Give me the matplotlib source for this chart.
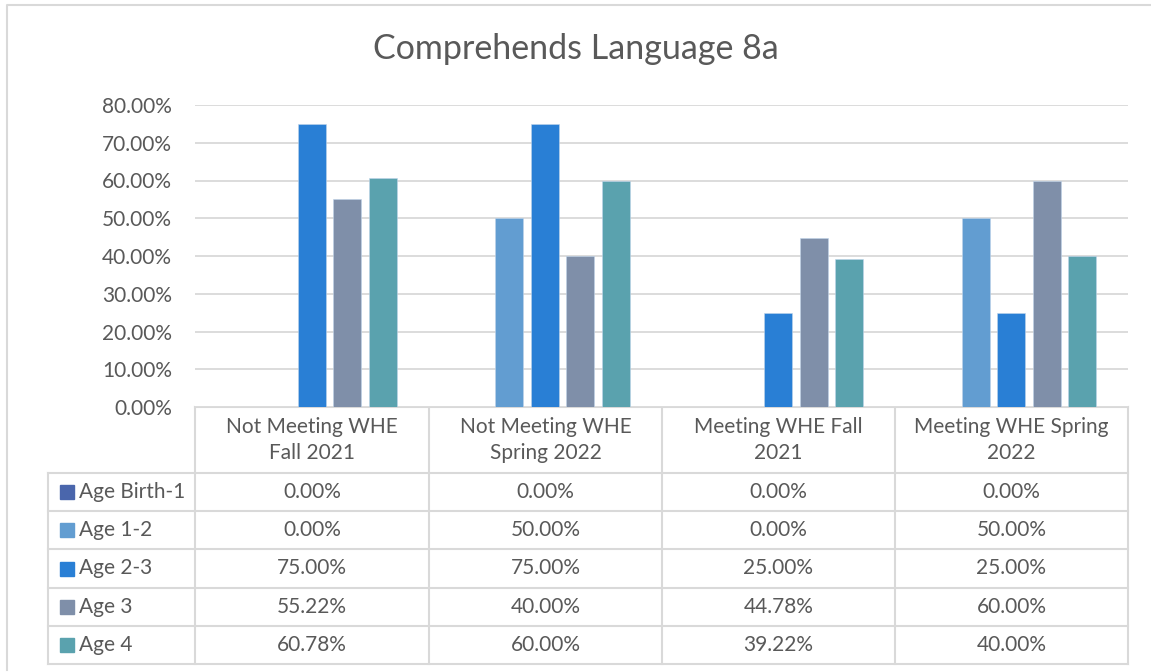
import matplotlib
matplotlib.use("Agg")
import matplotlib.pyplot as plt
import numpy as np

categories = ["Not Meeting WHE\nFall 2021", "Not Meeting WHE\nSpring 2022",
              "Meeting WHE Fall\n2021", "Meeting WHE Spring\n2022"]
series_names = ["Age Birth-1", "Age 1-2", "Age 2-3", "Age 3", "Age 4"]
age_birth_1 = [0.0, 0.0, 0.0, 0.0]
age_1_2 = [0.0, 0.50, 0.0, 0.50]
age_2_3 = [0.75, 0.75, 0.25, 0.25]
age_3 = [0.5522, 0.40, 0.4478, 0.60]
age_4 = [0.6078, 0.60, 0.3922, 0.40]
series_values = [age_birth_1, age_1_2, age_2_3, age_3, age_4]
colors = ["#4A66AC", "#629DD1", "#297FD5", "#7F8FA9", "#5AA2AE"]
yticks = [0, 0.1, 0.2, 0.3, 0.4, 0.5, 0.6, 0.7, 0.8]

plt.rcParams['font.family'] = ['Lato', 'DejaVu Sans']
W, H = 1151, 672
fig = plt.figure(figsize=(W / 100, H / 100), dpi=100)
txt = "#595959"
grid = "#D9D9D9"
fs = 15

# plot area in pixels
x0, x1 = 195, 1128
ytop, ybot = 105, 407
ax = fig.add_axes([x0 / W, 1 - ybot / H, (x1 - x0) / W, (ybot - ytop) / H])
n = len(categories)
x = np.arange(n)
step = 0.152
bw = 0.12
for i, (name, vals, c) in enumerate(zip(series_names, series_values, colors)):
    ax.bar(x + (i - 2) * step, vals, bw, color=c, label=name, zorder=3,
           edgecolor="#BFD4EA", linewidth=0.4)
ax.set_xlim(-0.5, n - 0.5)
ax.set_ylim(0, 0.8)
ax.set_yticks(yticks)
ax.set_yticklabels([f"{v*100:.2f}%" for v in yticks], color=txt, fontsize=fs)
ax.tick_params(axis='y', length=0, pad=16.5)
ax.set_xticks([])
ax.grid(axis='y', color=grid, linewidth=1.3, zorder=0)
for s in ax.spines.values():
    s.set_visible(False)

# overlay for table
ov = fig.add_axes([0, 0, 1, 1], zorder=-1)
ov.set_xlim(0, W)
ov.set_ylim(H, 0)
ov.axis('off')
lw = 1.5
col_x = [195, 429, 662, 895, 1128]
row_y = [473, 511, 549, 588, 626, 664]
for cx in col_x:
    ov.plot([cx, cx], [407, 664], color=grid, lw=lw)
ov.plot([48, 48], [473, 664], color=grid, lw=lw)
ov.plot([195, 1128], [407, 407], color=grid, lw=lw)
for ry in row_y:
    ov.plot([48, 1128], [ry, ry], color=grid, lw=lw)
# outer border
ov.plot([7, 7, 1150], [670, 5, 5], color=grid, lw=1.5)

for j, cat in enumerate(categories):
    cx = (col_x[j] + col_x[j + 1]) / 2
    ov.text(cx, 440, cat, ha='center', va='center', color=txt, fontsize=fs,
            linespacing=1.4)
for i, (name, vals, c) in enumerate(zip(series_names, series_values, colors)):
    cy = (row_y[i] + row_y[i + 1]) / 2
    ov.add_patch(plt.Rectangle((60, cy - 7), 14, 14, color=c))
    ov.text(79, cy, name, ha='left', va='center', color=txt, fontsize=fs)
    for j, v in enumerate(vals):
        cx = (col_x[j] + col_x[j + 1]) / 2
        ov.text(cx, cy, f"{v*100:.2f}%", ha='center', va='center', color=txt,
                fontsize=fs)

fig.text(0.5, 1 - 49 / H, "Comprehends Language 8a", ha='center', va='center',
         color=txt, fontsize=24.5)

fig.savefig("out.png", dpi=100, facecolor="white")
